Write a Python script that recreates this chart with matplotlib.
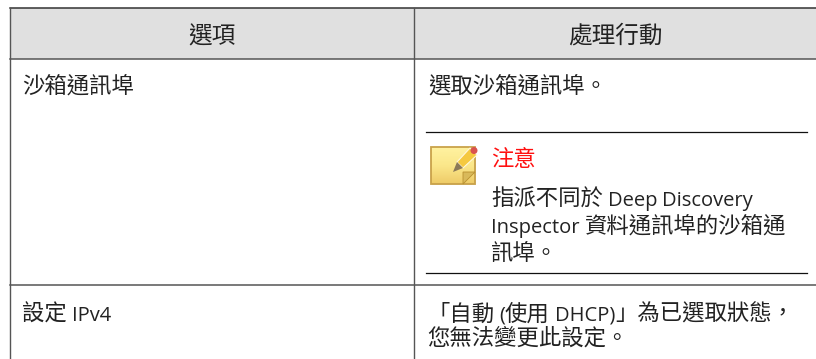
import re
import numpy as np
import matplotlib
matplotlib.use('Agg')
import matplotlib.pyplot as plt
from matplotlib.colors import LinearSegmentedColormap
from matplotlib.patches import Circle, Polygon, Rectangle

headers = ['選項', '處理行動']
row1_left = '沙箱通訊埠'
row1_right = '選取沙箱通訊埠。'
note_title = '注意'
note_lines = ['指派不同於 Deep Discovery', 'Inspector 資料通訊埠的沙箱通', '訊埠。']
row2_left = '設定 IPv4'
row2_right = ['「自動 (使用 DHCP)」為已選取狀態，', '您無法變更此設定。']

W, H = 816, 359
BODY = 16.1
LATIN = 14.5
SPACE = 5
TXT = '#222222'
GRID = '#555555'

fig = plt.figure(figsize=(W / 100, H / 100), dpi=100)
ax = fig.add_axes([0, 0, 1, 1])
ax.set_xlim(0, W)
ax.set_ylim(H, 0)
renderer = fig.canvas.get_renderer()

# header band
ax.add_patch(Rectangle((10, 8), W - 10, 51, fc='#e0e0e0', ec='none', zorder=0))

# table grid
ax.plot([10, W], [8, 8], color='#333333', lw=1.1)
ax.plot([10, W], [59, 59], color=GRID, lw=1.1)
ax.plot([10, W], [284.5, 284.5], color=GRID, lw=1.1)
ax.plot([10, 10], [8, H], color=GRID, lw=1.0)
ax.plot([414, 414], [8, H], color=GRID, lw=1.0)

# note rules
ax.plot([426, 807], [132, 132], color='#111111', lw=0.9)
ax.plot([426, 807], [273, 273], color='#111111', lw=0.9)

# latin runs come out smaller than the CJK ones in the reference, so draw them piece by piece
def put(x, y, s, size=BODY, color=TXT):
    for word in re.findall(r'[\x21-\x7e]+|[^\x20-\x7e]+|\x20', s):
        if word == ' ':
            x += SPACE
            continue
        if word[0] < '\x7f':
            t = ax.text(x, y, word, fontsize=LATIN, family='Open Sans', color=color, va='baseline')
        else:
            t = ax.text(x, y, word, fontsize=size, family='Noto Sans CJK TC', color=color, va='baseline')
        x += t.get_window_extent(renderer).width

ax.text(212, 43, headers[0], fontsize=17, family='Noto Sans CJK TC', color=TXT, ha='center', va='baseline')
ax.text(615, 43, headers[1], fontsize=17, family='Noto Sans CJK TC', color=TXT, ha='center', va='baseline')
put(22, 93, row1_left)
put(428, 93, row1_right)
put(491, 166, note_title, color='#ff1010')
for y, line in zip([206, 233, 260], note_lines):
    put(491, y, line)
put(22, 321, row2_left)
for y, line in zip([321, 345], row2_right):
    put(427, y, line)

# note icon
ax.add_patch(Rectangle((432, 150), 44, 35, fc='#cfcfcf', ec='none', alpha=0.6, zorder=1))
sticky = LinearSegmentedColormap.from_list('sticky', ['#fff2a0', '#fbe78a', '#eecb68'])
ax.imshow(np.linspace(0, 1, 40).reshape(-1, 1), cmap=sticky, extent=(431, 475, 184, 147),
          aspect='auto', zorder=2)
ax.add_patch(Rectangle((431, 147), 44, 37, fc='none', ec='#c9a24a', lw=1.3, zorder=3))
ax.add_patch(Polygon([[463, 184], [475, 172], [463, 172]], fc='#d9b95a', ec='#b8902f', lw=0.6, zorder=3))
ax.add_patch(Polygon([[457, 162], [470, 148], [477, 155], [463, 168]], fc='#f5c93f', ec='#fff8dc', lw=0.8, zorder=4))
ax.add_patch(Polygon([[453, 172], [457, 162], [463, 168]], fc='#8c7a58', ec='none', zorder=4))
ax.add_patch(Circle((474, 150.5), 3.5, fc='#d9534f', ec='none', zorder=5))

ax.set_xlim(0, W)
ax.set_ylim(H, 0)
ax.axis('off')

fig.savefig('out.png', dpi=100)
